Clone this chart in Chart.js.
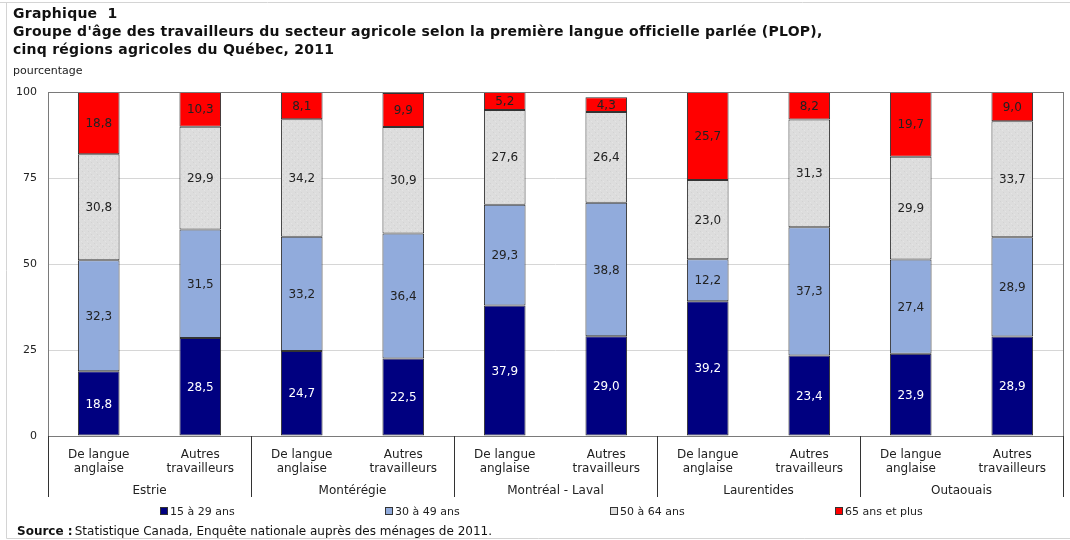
<!DOCTYPE html>
<html lang="fr">
<head>
<meta charset="utf-8">
<title>Graphique 1</title>
<script src="https://cdn.jsdelivr.net/npm/chart.js@4/dist/chart.umd.min.js"></script>
<style>
  html, body { margin: 0; padding: 0; background: #fff; }
  #wrap { width: 1070px; height: 540px; }
</style>
</head>
<body>
<div id="wrap"><canvas id="chart" width="1070" height="540"></canvas></div>
<script>
// données
const categories = [
  ["De langue", "anglaise"], ["Autres", "travailleurs"],
  ["De langue", "anglaise"], ["Autres", "travailleurs"],
  ["De langue", "anglaise"], ["Autres", "travailleurs"],
  ["De langue", "anglaise"], ["Autres", "travailleurs"],
  ["De langue", "anglaise"], ["Autres", "travailleurs"]
];
const regions = ["Estrie", "Montérégie", "Montréal - Laval", "Laurentides", "Outaouais"];
const seriesNames = ["15 à 29 ans", "30 à 49 ans", "50 à 64 ans", "65 ans et plus"];
const age15to29 = [18.8, 28.5, 24.7, 22.5, 37.9, 29.0, 39.2, 23.4, 23.9, 28.9];
const age30to49 = [32.3, 31.5, 33.2, 36.4, 29.3, 38.8, 12.2, 37.3, 27.4, 28.9];
const age50to64 = [30.8, 29.9, 34.2, 30.9, 27.6, 26.4, 23.0, 31.3, 29.9, 33.7];
const age65plus = [18.8, 10.3, 8.1, 9.9, 5.2, 4.3, 25.7, 8.2, 19.7, 9.0];
const yTicks = [0, 25, 50, 75, 100];

const FONT = "'DejaVu Sans', Verdana, sans-serif";

// motif pointillé discret pour la série grise
function dottedPattern() {
  const c = document.createElement("canvas");
  c.width = 6; c.height = 6;
  const g = c.getContext("2d");
  g.fillStyle = "#dddddd";
  g.fillRect(0, 0, 6, 6);
  g.fillStyle = "#d2d2d2";
  g.fillRect(1, 0, 1, 1);
  g.fillRect(4, 3, 1, 1);
  g.fillStyle = "#e5e5e5";
  g.fillRect(3, 1, 1, 1);
  g.fillRect(0, 4, 1, 1);
  return document.getElementById("chart").getContext("2d").createPattern(c, "repeat");
}

const fillColors = ["#000080", "#91abdc", dottedPattern(), "#ff0000"];
const legendColors = ["#000080", "#91abdc", "#dcdcdc", "#ff0000"];
const labelColors = ["#ffffff", "#222222", "#222222", "#222222"];

const fmt = v => v.toFixed(1).replace(".", ",");

// étiquettes au centre de chaque segment
const segmentLabels = {
  id: "segmentLabels",
  afterDatasetsDraw(chart) {
    const ctx = chart.ctx, area = chart.chartArea;
    ctx.save();
    ctx.font = "12px " + FONT;
    ctx.textAlign = "center";
    ctx.textBaseline = "middle";
    chart.data.datasets.forEach((ds, i) => {
      chart.getDatasetMeta(i).data.forEach((bar, j) => {
        const top = Math.max(Math.min(bar.y, bar.base), area.top);
        const bottom = Math.min(Math.max(bar.y, bar.base), area.bottom);
        ctx.fillStyle = labelColors[i];
        ctx.fillText(fmt(ds.data[j]), bar.x, (top + bottom) / 2 + 1);
      });
    });
    ctx.restore();
  }
};

// cadre, régions, légende, titres et source
const decorations = {
  id: "decorations",
  afterDraw(chart) {
    const ctx = chart.ctx, a = chart.chartArea, x = chart.scales.x;
    ctx.save();

    // bordure de la figure
    ctx.strokeStyle = "#d4d4d4";
    ctx.lineWidth = 1;
    ctx.beginPath();
    ctx.moveTo(0, 2.5); ctx.lineTo(1070, 2.5);
    ctx.moveTo(6.5, 2.5); ctx.lineTo(6.5, 538.5);
    ctx.moveTo(6.5, 538.5); ctx.lineTo(1070, 538.5);
    ctx.stroke();

    // cadre du graphique
    ctx.strokeStyle = "#7a7a7a";
    ctx.strokeRect(Math.round(a.left) + 0.5, Math.round(a.top) + 0.5,
      Math.round(a.right - a.left), Math.round(a.bottom - a.top));

    // séparateurs de régions
    const sepBottom = a.bottom + 61;
    ctx.strokeStyle = "#333";
    ctx.beginPath();
    const edges = [a.left];
    for (let g = 1; g < regions.length; g++) {
      edges.push((x.getPixelForValue(2 * g - 1) + x.getPixelForValue(2 * g)) / 2);
    }
    edges.push(a.right);
    edges.forEach(px => {
      const p = Math.round(px) + 0.5;
      ctx.moveTo(p, a.bottom); ctx.lineTo(p, sepBottom);
    });
    ctx.stroke();

    ctx.fillStyle = "#222";
    ctx.font = "12px " + FONT;
    ctx.textAlign = "center";
    ctx.textBaseline = "middle";
    regions.forEach((r, g) => {
      ctx.fillText(r, (edges[g] + edges[g + 1]) / 2, a.bottom + 55);
    });

    // légende
    ctx.textAlign = "left";
    ctx.font = "11px " + FONT;
    seriesNames.forEach((name, i) => {
      const lx = 160 + i * 225, ly = 511;
      ctx.fillStyle = legendColors[i];
      ctx.fillRect(lx, ly - 4, 8, 8);
      ctx.strokeStyle = "#333";
      ctx.strokeRect(lx + 0.5, ly - 3.5, 7, 7);
      ctx.fillStyle = "#222";
      ctx.fillText(name, lx + 10, ly + 1);
    });

    // titres
    ctx.fillStyle = "#111";
    ctx.font = "bold 14px " + FONT;
    ctx.letterSpacing = "0.25px";
    ctx.fillText("Graphique  1", 13, 14);
    ctx.fillText("Groupe d'âge des travailleurs du secteur agricole selon la première langue officielle parlée (PLOP),", 13, 32);
    ctx.fillText("cinq régions agricoles du Québec, 2011", 13, 50);
    ctx.letterSpacing = "0px";
    ctx.font = "11px " + FONT;
    ctx.fillStyle = "#222";
    ctx.fillText("pourcentage", 13, 71);

    // source
    ctx.font = "bold 12px " + FONT;
    ctx.fillStyle = "#111";
    ctx.fillText("Source :", 17, 532);
    const w = ctx.measureText("Source : ").width;
    ctx.font = "12px " + FONT;
    ctx.fillText("Statistique Canada, Enquête nationale auprès des ménages de 2011.", 17 + w - 2, 532);

    ctx.restore();
  }
};

new Chart(document.getElementById("chart"), {
  type: "bar",
  data: {
    labels: categories,
    datasets: [age15to29, age30to49, age50to64, age65plus].map((vals, i) => ({
      label: seriesNames[i],
      data: vals,
      backgroundColor: fillColors[i],
      borderColor: "#333333",
      borderWidth: 1,
      borderSkipped: false,
      barPercentage: 0.41,
      categoryPercentage: 1.0
    }))
  },
  options: {
    responsive: false,
    animation: false,
    layout: { padding: { top: 92, left: 8, right: 7, bottom: 40 } },
    plugins: {
      legend: { display: false },
      title: { display: false },
      tooltip: { enabled: false }
    },
    scales: {
      x: {
        stacked: true,
        grid: { display: false },
        border: { display: false },
        ticks: {
          color: "#222",
          font: { family: FONT, size: 12, lineHeight: 1.15 },
          padding: 4,
          maxRotation: 0,
          autoSkip: false
        },
        afterFit(scale) { scale.height = 64; }
      },
      y: {
        stacked: true,
        min: 0,
        max: 100,
        afterBuildTicks(scale) { scale.ticks = yTicks.map(v => ({ value: v })); },
        grid: { color: "#d6d6d6", drawTicks: false },
        border: { display: false },
        ticks: {
          color: "#222",
          font: { family: FONT, size: 11 },
          padding: 11
        },
        afterFit(scale) { scale.width = 40; }
      }
    }
  },
  plugins: [segmentLabels, decorations]
});
</script>
</body>
</html>
